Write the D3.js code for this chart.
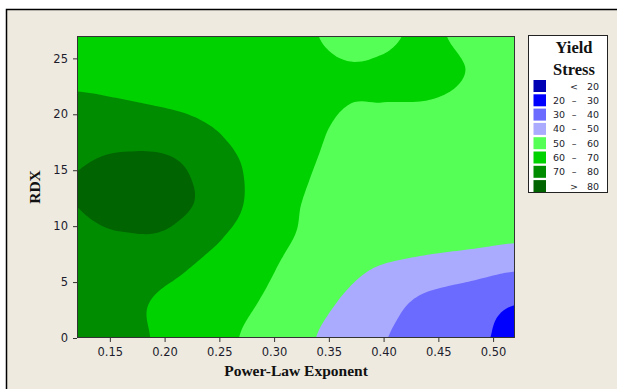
<!DOCTYPE html>
<html>
<head>
<meta charset="utf-8">
<script src="https://cdn.jsdelivr.net/npm/d3@7"></script>
<style>
  body { margin: 0; background: #fff; }
  svg { display: block; }
</style>
</head>
<body>
<svg id="chart" width="617" height="389"></svg>
<script>
// grid positions
const xVals = [0.12, 0.16, 0.20, 0.24, 0.28, 0.32, 0.36, 0.40, 0.44, 0.48, 0.52];
const yVals = [0, 3, 6, 9, 12, 15, 18, 21, 24, 27];

// yield stress estimated at each grid point, one row per RDX value (bottom to top)
const stressY0  = [74.0, 73.0, 68.3, 63.5, 58.4, 52.7, 46.7, 40.5, 36.1, 32.0, 27.9];
const stressY3  = [74.5, 73.3, 68.0, 64.6, 60.5, 55.0, 49.4, 43.4, 37.5, 34.1, 30.1];
const stressY6  = [75.8, 76.5, 72.5, 67.4, 63.0, 57.3, 53.1, 48.5, 45.5, 43.0, 40.2];
const stressY9  = [78.0, 79.3, 78.8, 72.3, 65.7, 59.8, 57.7, 56.0, 54.2, 53.0, 51.5];
const stressY12 = [80.1, 83.5, 83.5, 77.5, 68.2, 60.5, 58.6, 57.4, 56.4, 55.4, 54.4];
const stressY15 = [79.95, 82.8, 83.2, 76.0, 68.4, 61.5, 58.6, 57.6, 56.8, 56.0, 55.3];
const stressY18 = [76.6, 77.0, 75.8, 71.5, 67.0, 62.6, 59.0, 57.8, 57.3, 56.8, 56.3];
const stressY21 = [71.6, 70.6, 69.3, 67.8, 65.8, 63.5, 60.3, 59.97, 59.8, 58.6, 57.2];
const stressY24 = [67.5, 67.2, 66.8, 66.2, 65.2, 63.6, 60.6, 60.6, 62.0, 59.7, 58.0];
const stressY27 = [66.0, 66.5, 65.5, 65.0, 64.0, 62.0, 58.5, 59.2, 60.8, 58.5, 57.0];

const stressRows = [stressY0, stressY3, stressY6, stressY9, stressY12,
                    stressY15, stressY18, stressY21, stressY24, stressY27];

const levels = [20, 30, 40, 50, 60, 70, 80];
const bandColors = ['#0000B4', '#0000FF', '#6B6BFF', '#AAAAFF',
                    '#55FF55', '#00D200', '#008C00', '#006400'];

const xTicks = [0.15, 0.20, 0.25, 0.30, 0.35, 0.40, 0.45, 0.50];
const yTicks = [0, 5, 10, 15, 20, 25];

const svg = d3.select('#chart');

// panel background + frame
svg.append('rect')
    .attr('x', 6.5).attr('y', 9.5)
    .attr('width', 700).attr('height', 500)
    .attr('fill', '#EEEAE0')
    .attr('stroke', '#000')
    .attr('stroke-width', 1.5);

const plotL = 77, plotR = 515, plotT = 36, plotB = 338;

const x = d3.scaleLinear().domain([0.12, 0.52]).range([plotL, plotR]);
const y = d3.scaleLinear().domain([0, 27]).range([plotB, plotT]);

// smooth (catmull-rom) resampling of the grid so contours are not angular
const nx = xVals.length, ny = yVals.length, k = 12;
const fnx = (nx - 1) * k + 1, fny = (ny - 1) * k + 1;

function gridVal(i, j) {
    i = Math.max(0, Math.min(nx - 1, i));
    j = Math.max(0, Math.min(ny - 1, j));
    return stressRows[j][i];
}
function cr(p0, p1, p2, p3, t) {
    return p1 + 0.5 * t * (p2 - p0 + t * (2 * p0 - 5 * p1 + 4 * p2 - p3 + t * (3 * (p1 - p2) + p3 - p0)));
}
function sampleAt(u, v) {
    let i = Math.min(Math.floor(u), nx - 2), j = Math.min(Math.floor(v), ny - 2);
    let tu = u - i, tv = v - j;
    let cols = [];
    for (let dj = -1; dj <= 2; dj++) {
        cols.push(cr(gridVal(i - 1, j + dj), gridVal(i, j + dj), gridVal(i + 1, j + dj), gridVal(i + 2, j + dj), tu));
    }
    return cr(cols[0], cols[1], cols[2], cols[3], tv);
}

let fine = new Array(fnx * fny);
for (let fj = 0; fj < fny; fj++) {
    for (let fi = 0; fi < fnx; fi++) {
        fine[fj * fnx + fi] = sampleAt(fi / k, fj / k);
    }
}

const contours = d3.contours()
    .size([fnx, fny])
    .thresholds(levels)(fine);

const x0 = xVals[0], dxF = (xVals[nx - 1] - xVals[0]) / (fnx - 1);
const y0 = yVals[0], dyF = (yVals[ny - 1] - yVals[0]) / (fny - 1);

const toPlot = d3.geoTransform({
    point: function (gx, gy) {
        this.stream.point(x(x0 + (gx - 0.5) * dxF), y(y0 + (gy - 0.5) * dyF));
    }
});
const path = d3.geoPath(toPlot);

svg.append('clipPath').attr('id', 'plotClip')
    .append('rect')
    .attr('x', plotL).attr('y', plotT)
    .attr('width', plotR - plotL).attr('height', plotB - plotT);

const plot = svg.append('g').attr('clip-path', 'url(#plotClip)');

plot.append('rect')
    .attr('x', plotL).attr('y', plotT)
    .attr('width', plotR - plotL).attr('height', plotB - plotT)
    .attr('fill', bandColors[0]);

plot.selectAll('path')
    .data(contours)
    .join('path')
    .attr('d', path)
    .attr('fill', (d, i) => bandColors[i + 1]);

// plot border
svg.append('rect')
    .attr('x', plotL + 0.5).attr('y', plotT + 0.5)
    .attr('width', plotR - plotL - 1).attr('height', plotB - plotT - 1)
    .attr('fill', 'none')
    .attr('stroke', '#333')
    .attr('stroke-width', 1);

// axes
const xAxis = svg.append('g')
    .attr('transform', 'translate(0,' + plotB + ')')
    .call(d3.axisBottom(x).tickValues(xTicks).tickFormat(d3.format('.2f'))
        .tickSize(4).tickPadding(6).tickSizeOuter(0));

const yAxis = svg.append('g')
    .attr('transform', 'translate(' + plotL + ',0)')
    .call(d3.axisLeft(y).tickValues(yTicks).tickSize(4).tickPadding(5).tickSizeOuter(0));

[xAxis, yAxis].forEach(function (a) {
    a.select('.domain').remove();
    a.selectAll('line').attr('stroke', '#333');
    a.selectAll('text')
        .attr('fill', '#1c1c2c')
        .style('font-family', 'DejaVu Sans, sans-serif')
        .style('font-size', '11.5px');
});

// axis titles
svg.append('text')
    .attr('x', (plotL + plotR) / 2).attr('y', 376)
    .attr('text-anchor', 'middle')
    .style('font-family', 'Liberation Serif, serif')
    .style('font-weight', 'bold')
    .style('font-size', '15.5px')
    .attr('fill', '#111')
    .text('Power-Law Exponent');

svg.append('text')
    .attr('transform', 'translate(40,' + ((plotT + plotB) / 2) + ') rotate(-90)')
    .attr('text-anchor', 'middle')
    .style('font-family', 'Liberation Serif, serif')
    .style('font-weight', 'bold')
    .style('font-size', '15.5px')
    .attr('fill', '#111')
    .text('RDX');

// legend
const legend = svg.append('g');
legend.append('rect')
    .attr('x', 528.5).attr('y', 35.5)
    .attr('width', 79).attr('height', 157)
    .attr('fill', '#fff')
    .attr('stroke', '#222')
    .attr('stroke-width', 1);

legend.selectAll('text.title')
    .data(['Yield', 'Stress'])
    .join('text')
    .attr('class', 'title')
    .attr('x', 574).attr('y', (d, i) => 53 + i * 21.5)
    .attr('text-anchor', 'middle')
    .style('font-family', 'Liberation Serif, serif')
    .style('font-weight', 'bold')
    .style('font-size', '16.5px')
    .attr('fill', '#111')
    .text(d => d);

const rows = legend.selectAll('g.item')
    .data(bandColors)
    .join('g')
    .attr('class', 'item')
    .attr('transform', (d, i) => 'translate(0,' + (80 + i * 14.3) + ')');

rows.append('rect')
    .attr('x', 533.5).attr('y', 0)
    .attr('width', 12.5).attr('height', 12)
    .attr('fill', d => d);

const lowLabel = (d, i) => (i === 0 || i === bandColors.length - 1) ? '' : String(levels[i - 1]);
const symLabel = (d, i) => i === 0 ? '<' : (i === bandColors.length - 1 ? '>' : '\u2013');
const highLabel = (d, i) => i === bandColors.length - 1 ? String(levels[i - 1]) : String(levels[i]);

function legendText(sel, xPos, anchor, fn) {
    sel.append('text')
        .attr('x', xPos).attr('y', 9.5)
        .attr('text-anchor', anchor)
        .style('font-family', 'DejaVu Sans, sans-serif')
        .style('font-size', '9.5px')
        .attr('fill', '#1c1c2c')
        .text(fn);
}
legendText(rows, 565, 'end', lowLabel);
legendText(rows, 574, 'middle', symLabel);
legendText(rows, 599, 'end', highLabel);
</script>
</body>
</html>
